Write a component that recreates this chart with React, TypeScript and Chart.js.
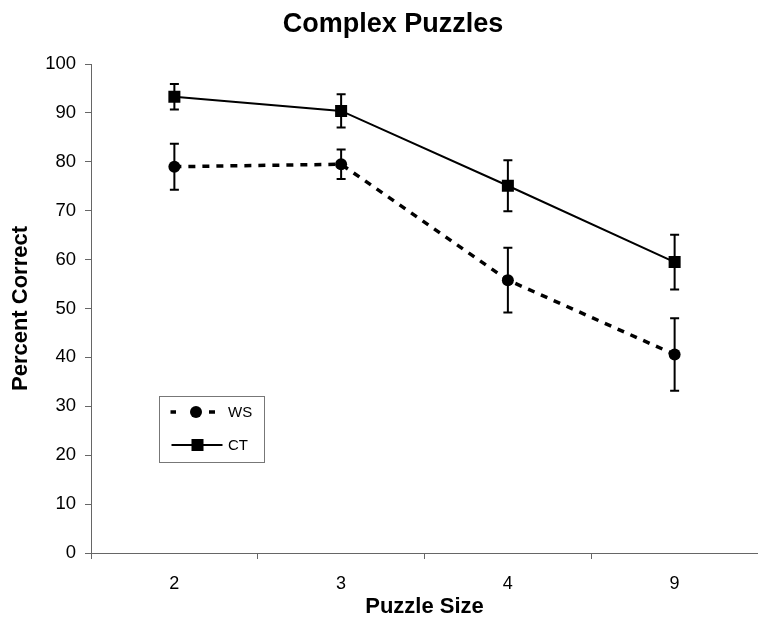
import React, { useEffect, useRef } from "react";
import { Chart, registerables } from "chart.js";

Chart.register(...registerables);

const chartTitle = "Complex Puzzles";
const xTitle = "Puzzle Size";
const yTitle = "Percent Correct";
const categories = ["2", "3", "4", "9"];
const wsLabel = "WS";
const wsValues = [79.0, 79.5, 55.8, 40.6];
const wsErrors = [4.7, 3.0, 6.6, 7.4];
const ctLabel = "CT";
const ctValues = [93.3, 90.4, 75.1, 59.5];
const ctErrors = [2.6, 3.4, 5.2, 5.6];

const FONT = "'Liberation Sans', Arial, Helvetica, sans-serif";

const errorBarPlugin = {
  id: "errorBars",
  beforeDatasetsDraw(chart: any) {
    const ctx = chart.ctx;
    const yScale = chart.scales.y;
    chart.data.datasets.forEach((ds: any, i: number) => {
      const meta = chart.getDatasetMeta(i);
      const errs: number[] = ds.errors || [];
      meta.data.forEach((pt: any, j: number) => {
        const v = ds.data[j];
        const e = errs[j];
        if (e == null) return;
        const x = pt.x;
        const yTop = yScale.getPixelForValue(v + e);
        const yBot = yScale.getPixelForValue(v - e);
        ctx.save();
        ctx.strokeStyle = "#000";
        ctx.lineWidth = 2;
        ctx.setLineDash([]);
        ctx.beginPath();
        ctx.moveTo(x, yTop);
        ctx.lineTo(x, yBot);
        ctx.moveTo(x - 4.5, yTop);
        ctx.lineTo(x + 4.5, yTop);
        ctx.moveTo(x - 4.5, yBot);
        ctx.lineTo(x + 4.5, yBot);
        ctx.stroke();
        ctx.restore();
      });
    });
  },
};

const titlePlugin = {
  id: "customTitle",
  afterDraw(chart: any) {
    const ctx = chart.ctx;
    ctx.save();
    ctx.fillStyle = "#000";
    ctx.font = `bold 27px ${FONT}`;
    ctx.textAlign = "center";
    ctx.textBaseline = "middle";
    ctx.fillText(chartTitle, 393, 25);
    ctx.restore();
  },
};

const legendPlugin = {
  id: "boxLegend",
  afterDraw(chart: any) {
    const ctx = chart.ctx;
    const left = 159.5;
    const top = 396.5;
    const w = 105;
    const h = 66;
    ctx.save();
    ctx.fillStyle = "#fff";
    ctx.fillRect(left, top, w, h);
    ctx.strokeStyle = "#777";
    ctx.lineWidth = 1;
    ctx.strokeRect(left, top, w, h);
    const rows = [412, 445];
    chart.data.datasets.forEach((ds: any, i: number) => {
      const y = rows[i];
      ctx.strokeStyle = "#000";
      ctx.lineWidth = ds.borderWidth;
      ctx.setLineDash([]);
      ctx.beginPath();
      if (ds.borderDash && ds.borderDash.length) {
        ctx.moveTo(170.5, y);
        ctx.lineTo(176, y);
        ctx.moveTo(209, y);
        ctx.lineTo(215, y);
      } else {
        ctx.moveTo(171.5, y);
        ctx.lineTo(222.5, y);
      }
      ctx.stroke();
      ctx.fillStyle = "#000";
      if (ds.pointStyle === "circle") {
        ctx.beginPath();
        ctx.arc(196, y, 6, 0, Math.PI * 2);
        ctx.fill();
      } else {
        ctx.fillRect(191.5, y - 6, 12, 12);
      }
      ctx.font = `15px ${FONT}`;
      ctx.textAlign = "left";
      ctx.textBaseline = "middle";
      ctx.fillText(ds.label, 228, y + 1);
    });
    ctx.restore();
  },
};

export default function App() {
  const canvasRef = useRef<HTMLCanvasElement | null>(null);

  useEffect(() => {
    document.body.style.margin = "0";
    const canvas = canvasRef.current;
    if (!canvas) return;
    const chart = new Chart(canvas, {
      type: "line",
      data: {
        labels: categories,
        datasets: [
          {
            label: wsLabel,
            data: wsValues,
            errors: wsErrors,
            borderColor: "#000",
            backgroundColor: "#000",
            borderWidth: 3.5,
            borderDash: [7, 7],
            pointStyle: "circle",
            pointRadius: 6,
            pointBorderWidth: 0,
            pointBackgroundColor: "#000",
            tension: 0,
            fill: false,
          } as any,
          {
            label: ctLabel,
            data: ctValues,
            errors: ctErrors,
            borderColor: "#000",
            backgroundColor: "#000",
            borderWidth: 2,
            pointStyle: "rect",
            pointRadius: 8.5,
            pointBorderWidth: 0,
            pointBackgroundColor: "#000",
            tension: 0,
            fill: false,
          } as any,
        ],
      },
      options: {
        responsive: false,
        animation: false,
        devicePixelRatio: 1,
        layout: { autoPadding: false, padding: { top: 64, right: 0, bottom: 0, left: 0 } },
        plugins: {
          legend: { display: false },
          title: { display: false },
          tooltip: { enabled: false },
        },
        scales: {
          x: {
            type: "category",
            offset: true,
            grid: {
              display: true,
              offset: true,
              drawOnChartArea: false,
              drawTicks: true,
              tickLength: 6,
              tickColor: "#666",
              color: "#666",
            },
            border: { display: true, color: "#666", width: 1 },
            ticks: {
              color: "#000",
              font: { family: FONT, size: 18 },
              padding: 14,
              maxRotation: 0,
            },
            title: {
              display: true,
              text: xTitle,
              color: "#000",
              font: { family: FONT, size: 22, weight: "bold" },
              padding: { top: 0, bottom: 0 },
            },
            afterFit(scale: any) {
              scale.height = 67;
            },
          },
          y: {
            min: 0,
            max: 100,
            ticks: {
              stepSize: 10,
              color: "#000",
              font: { family: FONT, size: 18.5 },
              padding: 9,
            },
            grid: {
              display: true,
              drawOnChartArea: false,
              drawTicks: true,
              tickLength: 6,
              tickColor: "#666",
              color: "#666",
            },
            border: { display: true, color: "#666", width: 1 },
            title: {
              display: true,
              text: yTitle,
              color: "#000",
              font: { family: FONT, size: 22, weight: "bold" },
              padding: { top: 8, bottom: 0 },
            },
            afterFit(scale: any) {
              scale.width = 91;
            },
          },
        },
      } as any,
      plugins: [errorBarPlugin, titlePlugin, legendPlugin],
    });
    return () => {
      chart.destroy();
    };
  }, []);

  return (
    <div style={{ width: 758, height: 620 }}>
      <canvas ref={canvasRef} width={758} height={620} style={{ display: "block" }} />
    </div>
  );
}
